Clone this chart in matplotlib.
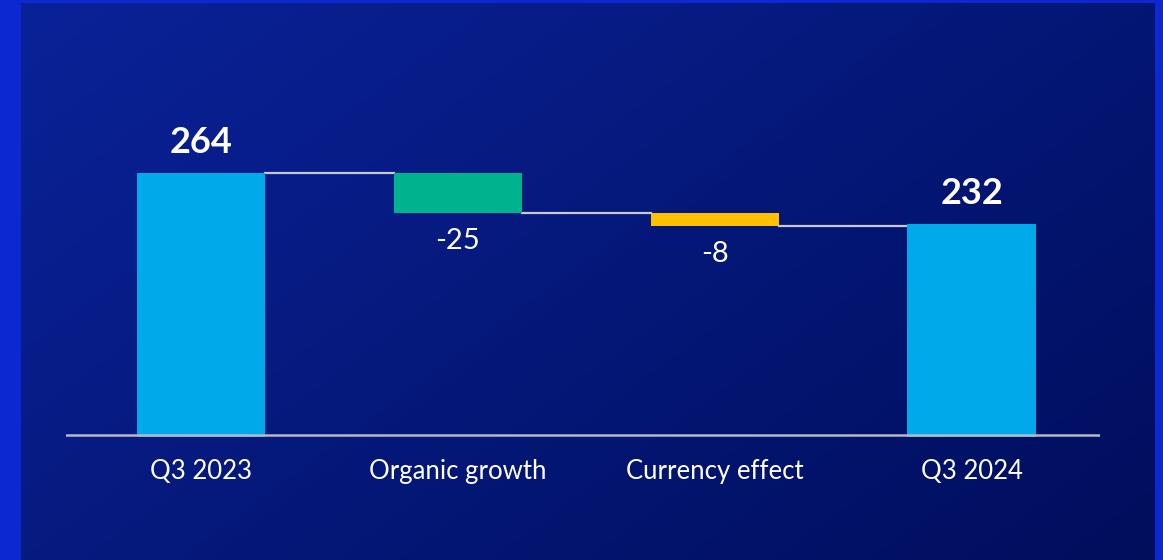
import matplotlib.pyplot as plt
import numpy as np

categories = ["Q3 2023", "Organic growth", "Currency effect", "Q3 2024"]
values = [264, -25, -8, 232]
kinds = ["total", "delta", "delta", "total"]
labels = ["264", "-25", "-8", "232"]
colors = ["#00a9ea", "#00b38f", "#ffc000", "#00a9ea"]

plt.rcParams['font.family'] = ['Lato', 'DejaVu Sans']

fig = plt.figure(figsize=(11.63, 5.6), dpi=100)
fig.patch.set_facecolor("#0c28d0")

# gradient background panel
bg = fig.add_axes([21 / 1163, 0, 1134 / 1163, 557 / 560])
gx, gy = np.meshgrid(np.linspace(0, 1, 300), np.linspace(0, 1, 150))
t = np.clip(0.6 * gx + 0.4 * gy, 0, 1)
c0 = np.array([10, 34, 152]) / 255
c1 = np.array([0, 14, 92]) / 255
img = c0[None, None, :] * (1 - t[..., None]) + c1[None, None, :] * t[..., None]
bg.imshow(img, aspect="auto", extent=[0, 1, 0, 1], origin="upper")
bg.axis("off")

ax = fig.add_axes([66 / 1163, 123 / 560, 1034 / 1163, 322 / 560])
ax.set_facecolor("none")

x = np.arange(len(categories))
w = 0.5
running = 0
tops = []
for i, (v, k) in enumerate(zip(values, kinds)):
    if k == "total":
        ax.bar(x[i], v, width=w, bottom=0, color=colors[i], zorder=2)
        running = v
        tops.append((v, v))
        ax.annotate(labels[i], (x[i], v), xytext=(0, 10), textcoords="offset points",
                    ha="center", va="bottom", fontsize=26, fontweight="bold", color="white")
    else:
        ax.bar(x[i], v, width=w, bottom=running, color=colors[i], zorder=2)
        new = running + v
        tops.append((running, new))
        ax.annotate(labels[i], (x[i], new), xytext=(0, -11), textcoords="offset points",
                    ha="center", va="top", fontsize=21, color="white")
        running = new

# connector lines
for i in range(len(values) - 1):
    lvl = tops[i][1]
    ax.plot([x[i] + w / 2, x[i + 1] - w / 2], [lvl, lvl], color="#c8c8d0", lw=1.6, zorder=1)

ax.axhline(100, color="#b8b8c4", lw=1.8, zorder=3)
ax.set_ylim(99, 300)
ax.set_xlim(-0.526, 3.5)
ax.set_xticks(x)
ax.set_xticklabels(categories, fontsize=18.5, color="white")
ax.tick_params(axis="x", length=0, pad=16)
ax.set_yticks([])
for s in ax.spines.values():
    s.set_visible(False)

fig.savefig("out.png", dpi=100, facecolor=fig.get_facecolor())
